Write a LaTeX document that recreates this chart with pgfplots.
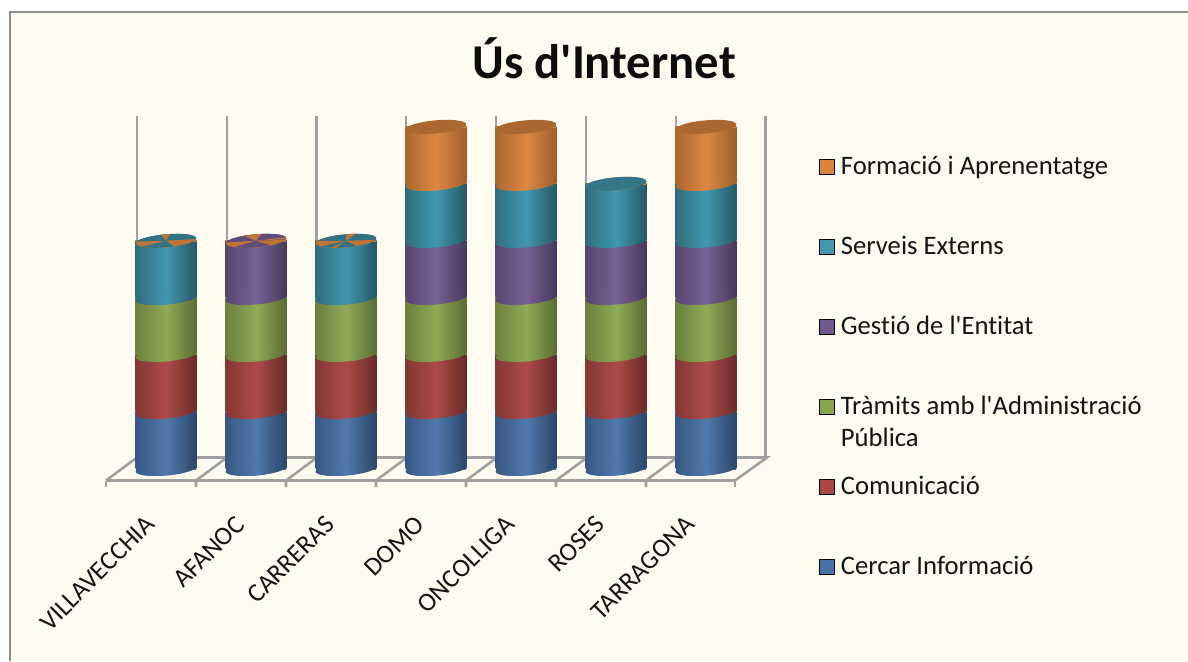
\documentclass[border=0pt]{standalone}
\usepackage{fontspec}
\setmainfont{Carlito}[Ligatures={TeXOff,CommonOff}]
\usepackage{pgfplots}
\usepackage{pgfplotstable}
\pgfplotsset{compat=1.18}

\definecolor{paper}{HTML}{FFFBF1}
\definecolor{frame}{HTML}{8E8E8E}
\definecolor{wall}{HTML}{A0A0A0}
\definecolor{swBlue}{HTML}{4672A8}
\definecolor{swRed}{HTML}{AA4643}
\definecolor{swGreen}{HTML}{89A54E}
\definecolor{swPurple}{HTML}{71588F}
\definecolor{swTeal}{HTML}{4198AF}
\definecolor{swOrange}{HTML}{DB843D}

% left edge / right edge / lit centre of each cylinder colour
\tikzset{
  blueS/.style={left color=swBlue!78!black,right color=swBlue!62!black,middle color=swBlue!95!white},
  redS/.style={left color=swRed!78!black,right color=swRed!62!black,middle color=swRed!97!white},
  greenS/.style={left color=swGreen!78!black,right color=swGreen!66!black,middle color=swGreen!95!white},
  purpleS/.style={left color=swPurple!78!black,right color=swPurple!64!black,middle color=swPurple!95!white},
  tealS/.style={left color=swTeal!72!black,right color=swTeal!58!black,middle color=swTeal},
  orangeS/.style={left color=swOrange!78!black,right color=swOrange!72!black,middle color=swOrange!97!white},
  wl/.style={wall,line width=1.9pt,no marks},
}

% Lower rim of a cylinder segment: an ellipse tilted by five degrees
\newcommand{\rimpath}{(22.71pt,1.99pt)
  .. controls (22.473pt,4.685pt) and (12.113pt,5.979pt) .. (-0.43pt,4.88pt)
  .. controls (-12.973pt,3.781pt) and (-22.947pt,0.705pt) .. (-22.71pt,-1.99pt)
  .. controls (-22.473pt,-4.685pt) and (-12.113pt,-5.979pt) .. (0.43pt,-4.88pt)
  .. controls (12.973pt,-3.781pt) and (22.947pt,-0.705pt) .. (22.71pt,1.99pt) -- cycle}
\pgfdeclareplotmark{capBlue}{\path[blueS] \rimpath;}
\pgfdeclareplotmark{capRed}{\path[redS] \rimpath;}
\pgfdeclareplotmark{capGreen}{\path[greenS] \rimpath;}
\pgfdeclareplotmark{capPurple}{\path[purpleS] \rimpath;}
\pgfdeclareplotmark{capTeal}{\path[tealS] \rimpath;}
\pgfdeclareplotmark{capOrange}{\path[orangeS] \rimpath;}
\pgfdeclareplotmark{topOrange}{\fill[swOrange!78!black] \rimpath;}
\pgfdeclareplotmark{topTeal}{\fill[swTeal!78!black] \rimpath;}

% flat tops where empty series collapse onto one another
\newcommand{\ellpt}[2]{%
  \pgfmathsetmacro{\ex}{22.71*cos(#1)-0.43*sin(#1)}%
  \pgfmathsetmacro{\ey}{1.99*cos(#1)+4.88*sin(#1)}%
  \xdef#2{(\ex pt,\ey pt)}}
\newcommand{\fan}[2]{%
  \fill[#1] \rimpath;
  \foreach \a/\b in {#2} {
    \pgfmathsetmacro{\mid}{(\a+\b)/2}
    \ellpt{\a}{\pA}\ellpt{\mid}{\pM}\ellpt{\b}{\pB}
    \fill[swOrange!88!black] (0pt,0pt) -- \pA -- \pM -- \pB -- cycle;
  }}
\pgfdeclareplotmark{fanTeal}{\fan{swTeal!75!black}{165/215,82/98,285/352}}
\pgfdeclareplotmark{fanTealB}{\fan{swTeal!75!black}{160/212,70/88,240/250,290/345}}
\pgfdeclareplotmark{fanPurple}{\fan{swPurple!85!black}{172/222,78/112,298/345,352/368}}

% One table per category. An empty series keeps a hair of height (0.001),
% as does the rim column, so that its mark is still placed.
\pgfplotstableread{
i CI Co Tr Ge    Se    Fo    rim
0 1  1  1  0.001 1     0.001 0.001
}\villavecchia
\pgfplotstableread{
i CI Co Tr Ge    Se    Fo    rim
1 1  1  1  1     0.001 0.001 0.001
}\afanoc
\pgfplotstableread{
i CI Co Tr Ge    Se    Fo    rim
2 1  1  1  0.001 1     0.001 0.001
}\carreras
\pgfplotstableread{
i CI Co Tr Ge    Se    Fo    rim
3 1  1  1  1     1     1     0.001
}\domo
\pgfplotstableread{
i CI Co Tr Ge    Se    Fo    rim
4 1  1  1  1     1     1     0.001
}\oncolliga
\pgfplotstableread{
i CI Co Tr Ge    Se    Fo    rim
5 1  1  1  1     1     0.001 0.001
}\roses
\pgfplotstableread{
i CI Co Tr Ge    Se    Fo    rim
6 1  1  1  1     1     1     0.001
}\tarragona

\pgfplotsset{
  chartframe/.style={
    anchor=south west,scale only axis,height=495.75pt,clip=false,
    ymin=-3.368,ymax=8.228},
}

% table, left edge of the bar in pt, x limits of its axis, mark on top
\newcommand{\cylinder}[5]{%
  \begin{axis}[
    chartframe,at={(#2pt,0pt)},width=45.4pt,
    xmin=#3,xmax=#4,hide axis,
    ybar stacked,reverse stacked plots=false,bar shift=0pt,bar width=45.4pt,
  ]
    \addplot[draw=none,fill=swBlue,mark=capBlue] table[x=i,y=rim] {#1};
    \addplot[draw=none,blueS,mark=capRed] table[x=i,y=CI] {#1};
    \addplot[draw=none,redS,mark=capGreen] table[x=i,y=Co] {#1};
    \addplot[draw=none,greenS,mark=capPurple] table[x=i,y=Tr] {#1};
    \addplot[draw=none,purpleS,mark=capTeal] table[x=i,y=Ge] {#1};
    \addplot[draw=none,tealS,mark=capOrange] table[x=i,y=Se] {#1};
    \addplot[draw=none,orangeS] table[x=i,y=Fo] {#1};
    \addplot[draw=none,fill=swOrange,mark=#5] table[x=i,y=rim] {#1};
  \end{axis}}

\begin{document}
\begin{tikzpicture}
  \useasboundingbox (0,0) rectangle (891pt,495.75pt);
  % sheet, chart area and its top and left rule
  \fill[white] (0,0) rectangle (891pt,495.75pt);
  \fill[paper] (7pt,0) rectangle (891pt,487pt);
  \draw[frame,line width=1.6pt] (7.4pt,0) -- (7.4pt,486.6pt) -- (891pt,486.6pt);

  % floor and back wall, in a plain coordinate system running down from the top left
  \begin{axis}[
    at={(0,0)},anchor=south west,scale only axis,width=891pt,height=495.75pt,
    xmin=0,xmax=1188,ymin=0,ymax=661,y dir=reverse,hide axis,clip=false,
  ]
    \addplot[wl] coordinates {(106,480.5) (735,480.5) (767,457.5) (137,457.5) (106,480.5)};
    \addplot[wl] coordinates {(137,116) (137,457.5)};
    \addplot[wl] coordinates {(226.8,116) (226.8,457.5)};
    \addplot[wl] coordinates {(316.5,116) (316.5,457.5)};
    \addplot[wl] coordinates {(406,116) (406,457.5)};
    \addplot[wl] coordinates {(496,116) (496,457.5)};
    \addplot[wl] coordinates {(586,116) (586,457.5)};
    \addplot[wl] coordinates {(676,116) (676,457.5)};
    \addplot[wl] coordinates {(765.5,116) (765.5,458)};
    \addplot[wl] coordinates {(196,487) (196,480.5) (227,457.5)};
    \addplot[wl] coordinates {(286,487) (286,480.5) (317,457.5)};
    \addplot[wl] coordinates {(376,487) (376,480.5) (407,457.5)};
    \addplot[wl] coordinates {(466,487) (466,480.5) (497,457.5)};
    \addplot[wl] coordinates {(556,487) (556,480.5) (587,457.5)};
    \addplot[wl] coordinates {(646,487) (646,480.5) (677,457.5)};
    \addplot[wl] coordinates {(106,487) (106,480.5)};
    \addplot[wl] coordinates {(735,487) (735,480.5)};
  \end{axis}

  % one stacked cylinder per category, so that each is shaded across its own width;
  % the mark on each series is the lower rim of the next one
  \cylinder{\villavecchia}{101.8}{-0.3363}{0.3363}{fanTeal}
  \cylinder{\afanoc}{169.3}{0.6637}{1.3363}{fanPurple}
  \cylinder{\carreras}{236.8}{1.6637}{2.3363}{fanTealB}
  \cylinder{\domo}{304.3}{2.6637}{3.3363}{topOrange}
  \cylinder{\oncolliga}{371.8}{3.6637}{4.3363}{topOrange}
  \cylinder{\roses}{439.3}{4.6637}{5.3363}{topTeal}
  \cylinder{\tarragona}{506.8}{5.6637}{6.3363}{topOrange}

  % title, category names and legend
  \begin{axis}[
    chartframe,at={(0,0)},width=891pt,
    xmin=-1.84444,xmax=11.35556,
    axis y line=none,axis x line*=bottom,
    x axis line style={draw=none},
    xtick={0,...,6},
    xticklabels={VILLAVECCHIA,AFANOC,CARRERAS,DOMO,ONCOLLIGA,ROSES,TARRAGONA},
    major tick length=0pt,
    xticklabel style={xshift=-9.5pt,yshift=108pt,rotate=45,anchor=east,
      font=\fontsize{19.5}{22}\selectfont,text=black!92},
    title={\bfseries Ús d'Internet},
    title style={at={(0.5085,0.8684)},anchor=base,
      font=\fontsize{36.5}{40}\selectfont,text=black!95},
    legend cell align=left,
    legend style={at={(815/1188,1-152.5/661)},anchor=north west,draw=none,fill=none,
      row sep=42pt,column sep=0pt,
      nodes={inner sep=0pt,text height=14pt,text depth=4pt,
        font=\fontsize{20}{24}\selectfont,text=black!92}},
    legend image code/.code={\fill[#1] (0pt,-5.3pt) rectangle (11.3pt,6pt);},
  ]
    \addlegendimage{fill=swOrange}\addlegendentry{\hspace{4.5pt}Formació i Aprenentatge}
    \addlegendimage{fill=swTeal}\addlegendentry{\hspace{4.5pt}Serveis Externs}
    \addlegendimage{fill=swPurple}\addlegendentry{\hspace{4.5pt}Gestió de l'Entitat}
    \addlegendimage{fill=swGreen}\addlegendentry{\hspace{4.5pt}\smash{\parbox[t]{270pt}{\raggedright Tràmits amb l'Administració\\Pública}}}
    \addlegendimage{fill=swRed}\addlegendentry{\hspace{4.5pt}Comunicació}
    \addlegendimage{fill=swBlue}\addlegendentry{\hspace{4.5pt}Cercar Informació}
  \end{axis}
\end{tikzpicture}
\end{document}
